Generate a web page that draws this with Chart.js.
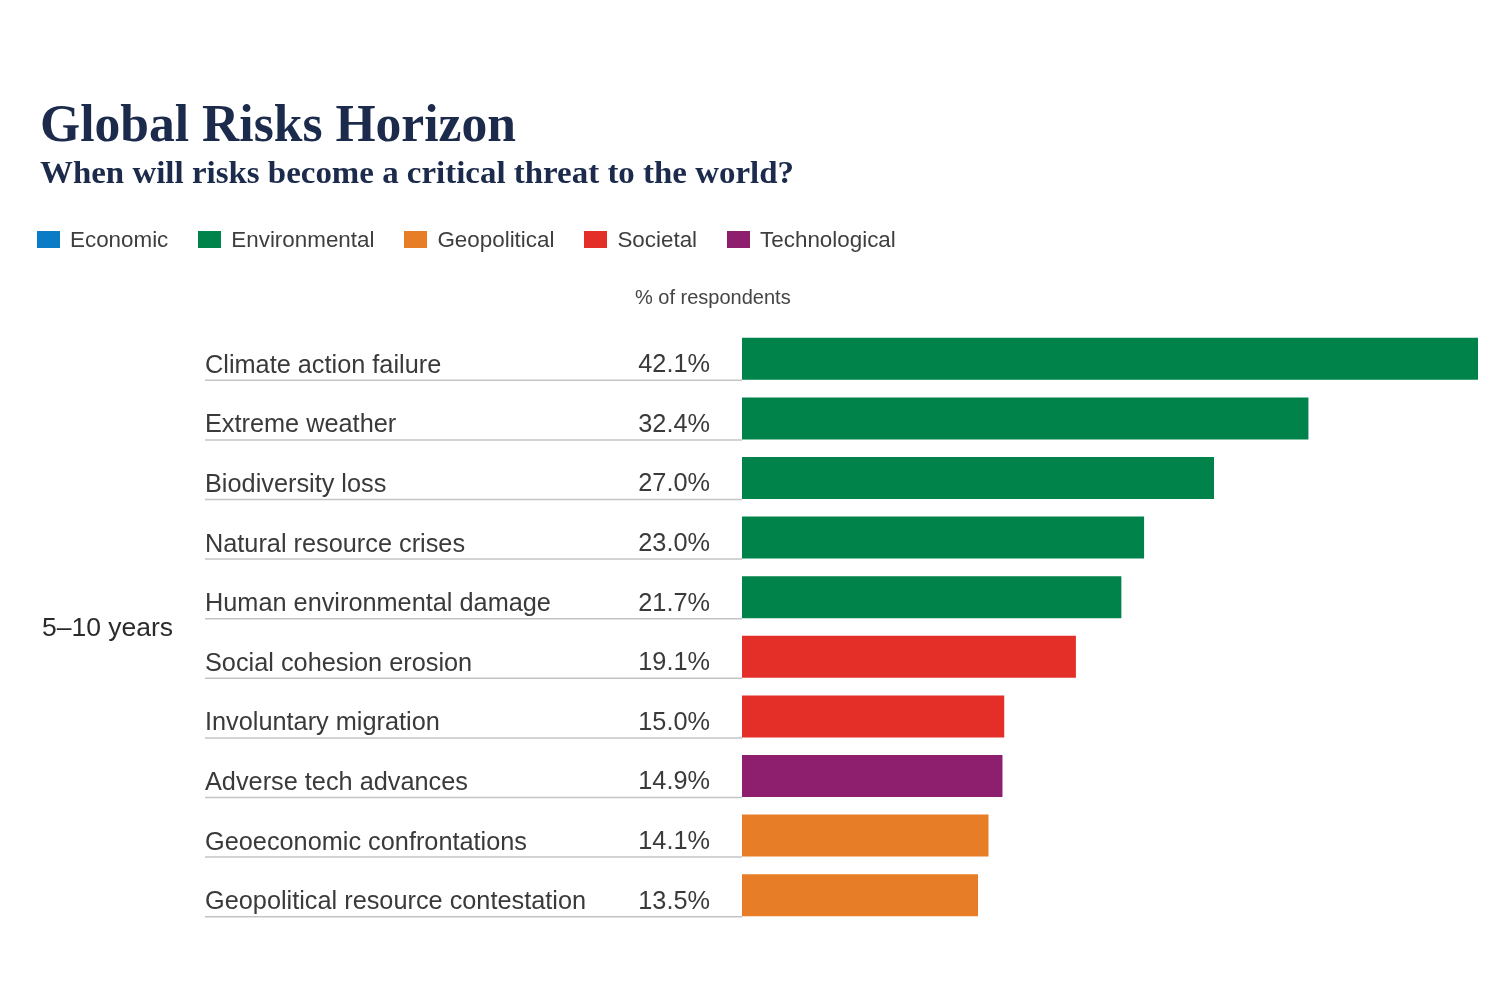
<!DOCTYPE html>
<html>
<head>
<meta charset="utf-8">
<script src="https://cdn.jsdelivr.net/npm/chart.js@4.4.1/dist/chart.umd.min.js"></script>
<style>
  html, body { margin: 0; padding: 0; background: #ffffff; }
  #wrap { position: relative; width: 1500px; height: 1000px; overflow: hidden; }
  #c { position: absolute; left: 0; top: 0; }
  .t { position: absolute; white-space: nowrap; line-height: 1; transform-origin: 0 0; }
  .serif { font-family: "Liberation Serif", "DejaVu Serif", serif; font-weight: bold; color: #1c2b4b; }
  .sans { font-family: "Liberation Sans", Arial, sans-serif; }
  #legend { position: absolute; left: 37px; top: 231px; display: flex; align-items: flex-start; }
  .li { display: flex; align-items: flex-start; margin-right: 30px; }
  .sw { width: 23px; height: 17px; margin-right: 10px; }
  .lt { font-family: "Liberation Sans", Arial, sans-serif; font-size: 22.4px; line-height: 1; color: #3e3e3e; margin-top: -2px; white-space: nowrap; }
</style>
</head>
<body>
<div id="wrap">
  <canvas id="c" width="1500" height="1000"></canvas>
  <div id="title" class="t serif" style="left:40px; top:97px; font-size:53px;">Global Risks Horizon</div>
  <div id="subtitle" class="t serif" style="left:40px; top:156px; font-size:32px;">When will risks become a critical threat to the world?</div>
  <div id="legend"></div>
  <div id="unit" class="t sans" style="left:635px; top:287px; font-size:20px; color:#444;">% of respondents</div>
  <div id="horizon" class="t sans" style="left:42px; top:614px; font-size:26.5px; color:#2a2a2a;">5–10 years</div>
</div>
<script>
// ---- data ----
const riskLabels = [
  "Climate action failure",
  "Extreme weather",
  "Biodiversity loss",
  "Natural resource crises",
  "Human environmental damage",
  "Social cohesion erosion",
  "Involuntary migration",
  "Adverse tech advances",
  "Geoeconomic confrontations",
  "Geopolitical resource contestation"
];
const riskValues = [42.1, 32.4, 27.0, 23.0, 21.7, 19.1, 15.0, 14.9, 14.1, 13.5];
const riskCategories = [
  "Environmental", "Environmental", "Environmental", "Environmental", "Environmental",
  "Societal", "Societal", "Technological", "Geopolitical", "Geopolitical"
];
const legendCategories = ["Economic", "Environmental", "Geopolitical", "Societal", "Technological"];
const horizonLabel = "5–10 years";

// ---- styles ----
const categoryColors = {
  Economic: "#0a7bc4",
  Environmental: "#00834b",
  Geopolitical: "#e77d26",
  Societal: "#e42f28",
  Technological: "#8e1f6f"
};

// legend
const legendEl = document.getElementById("legend");
legendCategories.forEach(cat => {
  const item = document.createElement("div");
  item.className = "li";
  const sw = document.createElement("div");
  sw.className = "sw";
  sw.style.background = categoryColors[cat];
  const tx = document.createElement("div");
  tx.className = "lt";
  tx.textContent = cat;
  item.appendChild(sw);
  item.appendChild(tx);
  legendEl.appendChild(item);
});

// fit serif headings to the reference widths
function fitWidth(id, target) {
  const el = document.getElementById(id);
  const w = el.getBoundingClientRect().width;
  if (w > 0) el.style.transform = "scaleX(" + (target / w) + ")";
}
fitWidth("title", 476);
fitWidth("subtitle", 754);

const rowDecor = {
  id: "rowDecor",
  beforeDatasetsDraw(chart) {
    const ctx = chart.ctx;
    const y = chart.scales.y;
    const area = chart.chartArea;
    const meta = chart.getDatasetMeta(0);
    ctx.save();
    ctx.strokeStyle = "#c4c4c4";
    ctx.lineWidth = 1.5;
    meta.data.forEach((bar, i) => {
      const bottom = bar.y + bar.height / 2;
      ctx.beginPath();
      ctx.moveTo(y.left, bottom + 0.5);
      ctx.lineTo(area.left, bottom + 0.5);
      ctx.stroke();
    });
    ctx.restore();
  },
  afterDatasetsDraw(chart) {
    const ctx = chart.ctx;
    const area = chart.chartArea;
    const meta = chart.getDatasetMeta(0);
    ctx.save();
    ctx.fillStyle = "#3a3a3a";
    ctx.font = "25.3px 'Liberation Sans', Arial, sans-serif";
    ctx.textAlign = "right";
    ctx.textBaseline = "middle";
    meta.data.forEach((bar, i) => {
      ctx.fillText(riskValues[i].toFixed(1) + "%", area.left - 32, bar.y + 6.5);
    });
    ctx.restore();
  }
};

new Chart(document.getElementById("c"), {
  type: "bar",
  data: {
    labels: riskLabels,
    datasets: [{
      label: horizonLabel,
      data: riskValues,
      backgroundColor: riskCategories.map(c => categoryColors[c]),
      borderWidth: 0,
      categoryPercentage: 1.0,
      barPercentage: 0.704
    }]
  },
  options: {
    indexAxis: "y",
    responsive: false,
    animation: false,
    layout: { padding: { left: 205, right: 22, top: 329, bottom: 75 } },
    plugins: {
      legend: { display: false },
      title: { display: false },
      tooltip: { enabled: false }
    },
    scales: {
      x: {
        display: false,
        min: 0,
        max: Math.max(...riskValues)
      },
      y: {
        grid: { display: false, drawTicks: false },
        border: { display: false },
        afterFit(scale) { scale.width = 537; },
        ticks: {
          autoSkip: false,
          crossAlign: "far",
          padding: 0,
          labelOffset: 7,
          color: "#3a3a3a",
          font: { family: "'Liberation Sans', Arial, sans-serif", size: 25.3 }
        }
      }
    }
  },
  plugins: [rowDecor]
});
</script>
</body>
</html>
